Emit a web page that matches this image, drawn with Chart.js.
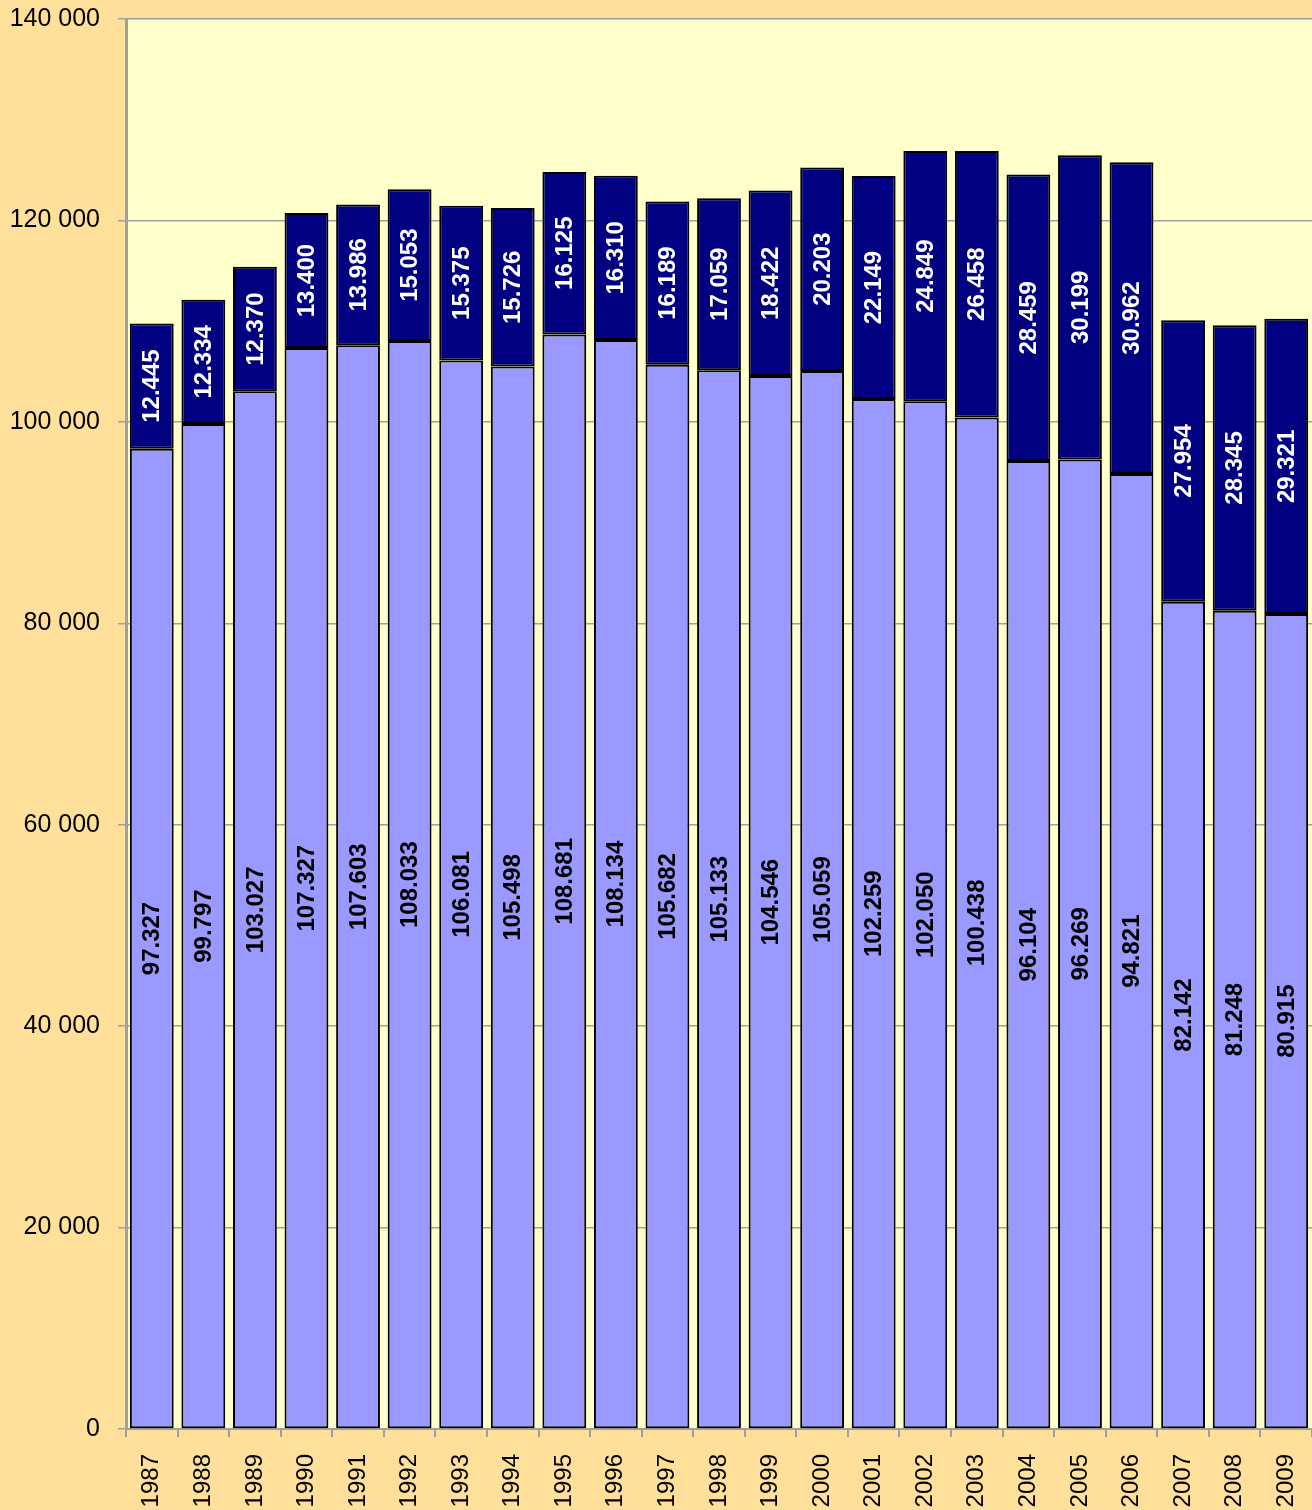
<!DOCTYPE html>
<html>
<head>
  <meta charset="UTF-8" />
  <title>1987–2009</title>
  <style>
    html, body {
      margin: 0;
      padding: 0;
      background-color: #ffe09a;
    }
    canvas {
      display: block;
    }
  </style>
</head>
<body>
  <canvas id="chart" width="1312" height="1510"></canvas>

  <script src="https://cdn.jsdelivr.net/npm/chart.js"></script>
  <script>
    const years = ["1987", "1988", "1989", "1990", "1991", "1992", "1993", "1994", "1995", "1996", "1997", "1998",
      "1999", "2000", "2001", "2002", "2003", "2004", "2005", "2006", "2007", "2008", "2009"];
    const lowerValues = [97327, 99797, 103027, 107327, 107603, 108033, 106081, 105498, 108681, 108134, 105682, 105133,
      104546, 105059, 102259, 102050, 100438, 96104, 96269, 94821, 82142, 81248, 80915];
    const upperValues = [12445, 12334, 12370, 13400, 13986, 15053, 15375, 15726, 16125, 16310, 16189, 17059,
      18422, 20203, 22149, 24849, 26458, 28459, 30199, 30962, 27954, 28345, 29321];
    const yTicks = [0, 20000, 40000, 60000, 80000, 100000, 120000, 140000];

    const FONT = "'Liberation Sans', Arial, sans-serif";

    // 97327 -> "97.327"
    function dotted(v) {
      return String(v).replace(/\B(?=(\d{3})+(?!\d))/g, ".");
    }
    // 140000 -> "140 000"
    function spaced(v) {
      return String(v).replace(/\B(?=(\d{3})+(?!\d))/g, " ");
    }

    // drop the extra room scales reserve for overhanging labels
    function noOverhang(scale) {
      scale.paddingTop = 0;
      scale.paddingBottom = 0;
      scale.paddingLeft = 0;
      scale.paddingRight = 0;
    }

    // page and plot backgrounds
    const backgrounds = {
      id: "backgrounds",
      beforeDraw(chart) {
        const { ctx, chartArea: a } = chart;
        ctx.save();
        ctx.fillStyle = "#ffe09a";
        ctx.fillRect(0, 0, chart.width, chart.height);
        ctx.fillStyle = "#ffffcc";
        ctx.fillRect(a.left, a.top, a.right - a.left, a.bottom - a.top);
        ctx.restore();
      }
    };

    // vertical value labels in the middle of each segment
    const segmentLabels = {
      id: "segmentLabels",
      afterDatasetsDraw(chart) {
        const ctx = chart.ctx;
        chart.data.datasets.forEach((ds, i) => {
          const meta = chart.getDatasetMeta(i);
          meta.data.forEach((bar, j) => {
            const cy = (bar.y + bar.base) / 2;
            ctx.save();
            ctx.translate(bar.x, cy);
            ctx.rotate(-Math.PI / 2);
            ctx.font = "bold 24px " + FONT;
            ctx.fillStyle = ds.labelColor;
            ctx.textAlign = "center";
            ctx.textBaseline = "middle";
            ctx.fillText(dotted(ds.data[j]), 0, 1);
            ctx.restore();
          });
        });
      }
    };

    new Chart(document.getElementById("chart"), {
      type: "bar",
      data: {
        labels: years,
        datasets: [
          {
            data: lowerValues,
            backgroundColor: "#9999ff",
            borderColor: "#000000",
            borderWidth: 2,
            borderSkipped: false,
            labelColor: "#000000"
          },
          {
            data: upperValues,
            backgroundColor: "#000080",
            borderColor: "#000000",
            borderWidth: 2,
            borderSkipped: false,
            labelColor: "#ffffff"
          }
        ]
      },
      options: {
        responsive: false,
        animation: false,
        layout: { padding: { top: 19, right: 0, left: 0, bottom: 0 } },
        datasets: {
          bar: { categoryPercentage: 1, barPercentage: 0.85 }
        },
        plugins: {
          legend: { display: false },
          tooltip: { enabled: false }
        },
        scales: {
          x: {
            stacked: true,
            afterFit(scale) {
              scale.height = 81;
              noOverhang(scale);
            },
            grid: {
              offset: true,
              drawOnChartArea: false,
              color: "#a0a0a0",
              tickLength: 8,
              lineWidth: 2
            },
            border: { color: "#a0a0a0", width: 2 },
            ticks: {
              minRotation: 90,
              maxRotation: 90,
              padding: 17,
              color: "#000000",
              font: { family: FONT, size: 24 }
            }
          },
          y: {
            stacked: true,
            min: 0,
            max: 140000,
            afterFit(scale) {
              scale.width = 126;
              noOverhang(scale);
            },
            afterBuildTicks(scale) {
              scale.ticks = yTicks.map(v => ({ value: v }));
            },
            grid: {
              color: "#a0a0a0",
              lineWidth: 1.5,
              tickLength: 8
            },
            border: { color: "#a0a0a0", width: 3 },
            ticks: {
              padding: 18,
              color: "#000000",
              font: { family: FONT, size: 25 },
              callback: v => spaced(v)
            }
          }
        }
      },
      plugins: [backgrounds, segmentLabels]
    });
  </script>
</body>
</html>
